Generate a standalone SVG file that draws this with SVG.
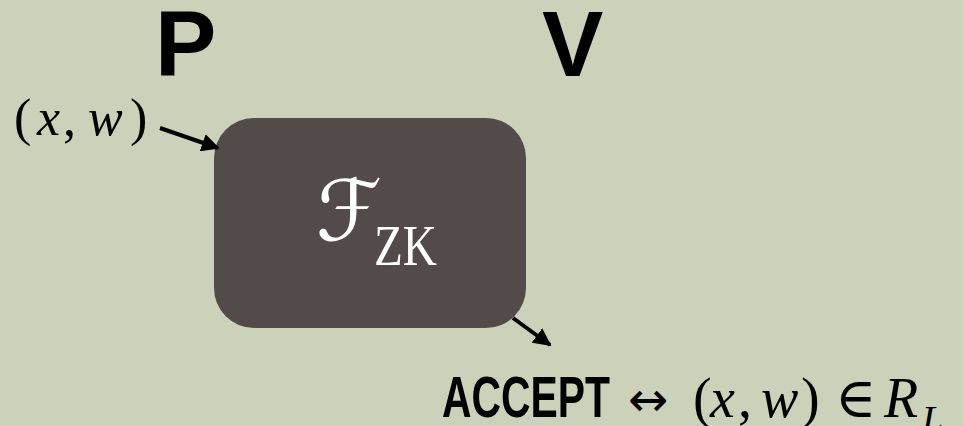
<svg xmlns="http://www.w3.org/2000/svg" width="963" height="426" viewBox="0 0 963 426">
  <style>
    .role { font-family: "Liberation Sans", Arial, sans-serif; font-weight: bold; font-size: 92px; fill: #000; }
    .math { font-family: "Liberation Serif", "DejaVu Serif", serif; font-style: italic; fill: #000; }
    .up { font-family: "Liberation Serif", "DejaVu Serif", serif; font-style: normal; }
    .word { font-family: "Liberation Sans", Arial, sans-serif; font-weight: bold; fill: #000; }
    .wire { stroke: #000; stroke-width: 4; fill: none; marker-end: url(#head); }
  </style>
  <defs>
    <marker id="head" viewBox="0 0 10 10" refX="9" refY="5" markerWidth="4.5" markerHeight="4.5" orient="auto" markerUnits="strokeWidth">
      <path d="M0,0 L10,5 L0,10 z" fill="#000"/>
    </marker>
  </defs>
  <rect width="963" height="426" fill="#CCD1B9"/>

  <g id="prover">
    <text class="role" x="155" y="76">P</text>
  </g>
  <g id="verifier">
    <text class="role" x="542" y="76">V</text>
  </g>

  <g id="input">
    <text class="math" font-size="52" y="135"><tspan x="14" class="up">(</tspan><tspan x="37">x</tspan><tspan x="63" class="up">,</tspan><tspan x="88">w</tspan><tspan x="130" class="up">)</tspan></text>
  </g>

  <g id="fzk">
    <rect x="214" y="118" width="312" height="210" rx="40" ry="40" fill="#534B4A"/>
    <text x="316" y="240" font-family="'DejaVu Sans', sans-serif" font-size="84" fill="#fff">ℱ</text>
    <text x="374" y="265" font-family="'Liberation Serif', serif" font-size="56" fill="#fff" textLength="63" lengthAdjust="spacingAndGlyphs">ZK</text>
  </g>

  <g id="result">
    <text class="word" x="442" y="417" font-size="58" textLength="168" lengthAdjust="spacingAndGlyphs">ACCEPT</text>
    <text x="628" y="416" font-family="'DejaVu Sans', sans-serif" font-size="48" fill="#000">↔</text>
    <text class="math" font-size="56" y="417"><tspan x="693" class="up">(</tspan><tspan x="710">x</tspan><tspan x="738" class="up">,</tspan><tspan x="761">w</tspan><tspan x="801" class="up">)</tspan><tspan x="835" class="up">∈</tspan><tspan x="884">R</tspan></text>
    <text class="math" font-size="38" x="922" y="432">L</text>
  </g>

  <g id="connectors">
    <line class="wire" x1="160" y1="128" x2="218" y2="148"/>
    <line class="wire" x1="513" y1="318" x2="550" y2="345"/>
  </g>
</svg>
